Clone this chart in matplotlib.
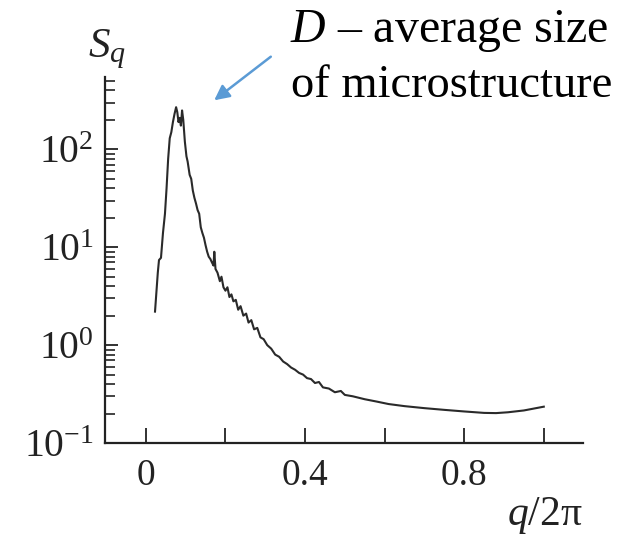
"""Structure factor S_q vs q/2pi, log scale, with annotation."""
import matplotlib.pyplot as plt
from matplotlib.ticker import FixedLocator, LogLocator, NullFormatter

plt.rcParams["font.family"] = ["Liberation Serif", "DejaVu Serif"]
plt.rcParams["mathtext.fontset"] = "custom"
plt.rcParams["mathtext.rm"] = "Liberation Serif"
plt.rcParams["mathtext.it"] = "Liberation Serif:italic"

# curve
q = [0.023, 0.030, 0.033, 0.038, 0.043, 0.048, 0.052, 0.056, 0.060, 0.064,
     0.068, 0.072, 0.076, 0.079, 0.082, 0.085, 0.088, 0.091, 0.094, 0.098,
     0.102, 0.105, 0.110, 0.114, 0.118, 0.122, 0.126, 0.130, 0.134, 0.138,
     0.142, 0.146, 0.150, 0.154, 0.158, 0.162, 0.166, 0.170, 0.172, 0.175,
     0.180, 0.186, 0.190, 0.195, 0.200, 0.205, 0.210, 0.215, 0.220, 0.226,
     0.232, 0.238, 0.245, 0.252, 0.258, 0.265, 0.272, 0.280, 0.288, 0.296,
     0.305, 0.315, 0.325, 0.335, 0.345, 0.355, 0.365, 0.375, 0.385, 0.395,
     0.405, 0.415, 0.425, 0.435, 0.445, 0.460, 0.475, 0.490, 0.500, 0.520,
     0.550, 0.580, 0.610, 0.650, 0.700, 0.750, 0.800, 0.850, 0.880, 0.910,
     0.950, 1.000]
s_q = [2.2, 5.5, 7.4, 7.8, 14, 22, 40, 80, 130, 150,
       190, 230, 270, 240, 190, 210, 175, 250, 200, 120,
       85, 75, 55, 50, 38, 32, 28, 24, 22, 16,
       14, 12.5, 10.5, 9.0, 8.0, 7.6, 7.0, 6.5, 9.0, 6.0,
       5.5, 4.5, 5.0, 3.9, 3.6, 3.9, 3.1, 3.3, 2.8, 2.9,
       2.3, 2.5, 2.0, 2.1, 1.7, 1.8, 1.45, 1.5, 1.2, 1.15,
       1.0, 0.92, 0.80, 0.76, 0.68, 0.64, 0.59, 0.56, 0.52, 0.50,
       0.46, 0.45, 0.41, 0.42, 0.37, 0.36, 0.33, 0.34, 0.31, 0.30,
       0.28, 0.265, 0.25, 0.238, 0.227, 0.218, 0.21, 0.203, 0.202, 0.206,
       0.215, 0.235]

x_ticks = [0, 0.2, 0.4, 0.6, 0.8, 1.0]
x_labels = ["0", "", "0.4", "", "0.8", ""]

fig = plt.figure(figsize=(6.28, 5.38), dpi=100, facecolor="white")
ax = fig.add_axes([0.167, 0.1766, 0.761, 0.6804])

ax.plot(q, s_q, color="#2a2a2a", lw=1.5)

ax.set_yscale("log")
ax.set_xlim(-0.103, 1.098)
ax.set_ylim(0.1, 550)

ax.xaxis.set_major_locator(FixedLocator(x_ticks))
ax.set_xticklabels(x_labels)
ax.yaxis.set_major_locator(LogLocator(base=10, numticks=10))
ax.yaxis.set_minor_locator(LogLocator(base=10, subs=range(2, 10), numticks=20))
ax.yaxis.set_minor_formatter(NullFormatter())

for side in ["top", "right"]:
    ax.spines[side].set_visible(False)
for side in ["left", "bottom"]:
    ax.spines[side].set_linewidth(1.6)
    ax.spines[side].set_color("#222222")

ax.tick_params(axis="x", direction="in", length=11, width=1.3, pad=11,
               labelsize=27, colors="#222222")
ax.tick_params(axis="y", which="major", direction="in", length=9.5, width=1.3,
               pad=8, labelsize=28.5, colors="#222222")
ax.tick_params(axis="y", which="minor", direction="in", length=7, width=1.2,
               colors="#222222")

# axis titles
fig.text(88 / 628, 1 - 57 / 538, r"$S_q$", fontsize=31, ha="left",
         va="baseline", color="#222222")
fig.text(583 / 628, 1 - 525 / 538, r"$q$/2π", fontsize=30, ha="right",
         va="baseline", color="#222222")

# annotation
fig.text(290 / 628, 1 - 42 / 538, r"$D$ – average size", fontsize=34.5,
         ha="left", va="baseline", color="black")
fig.text(291 / 628, 1 - 97 / 538, "of microstructure", fontsize=33.5,
         ha="left", va="baseline", color="black")
ax.annotate("", xy=(212, 538 - 102), xytext=(273, 538 - 55),
            xycoords="figure pixels", textcoords="figure pixels",
            arrowprops=dict(arrowstyle="-|>,head_length=0.9,head_width=0.45",
                            color="#5b9bd5", lw=1.8))

plt.savefig("out.png", dpi=100, facecolor="white")
plt.close()
